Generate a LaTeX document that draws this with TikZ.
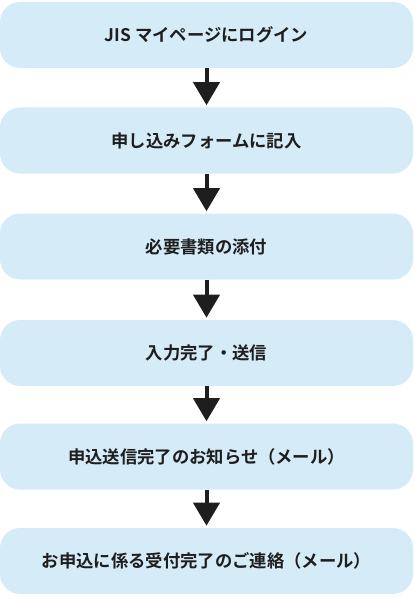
\documentclass[tikz,border=0pt]{standalone}
\usepackage{fontspec}
\newfontfamily\jpfont{Noto Sans CJK JP}[BoldFont={Noto Sans CJK JP Bold}]
\usetikzlibrary{arrows.meta}
\definecolor{boxfill}{RGB}{214,235,248}
\definecolor{ink}{RGB}{30,30,30}
\tikzset{
  x=0.75pt,y=-0.75pt,
  stepbox/.style={fill=boxfill, draw=none, rounded corners=15pt, minimum width=309.75pt, minimum height=49.5pt, inner sep=0pt, font=\jpfont\bfseries\fontsize{13pt}{15pt}\selectfont, text=ink},
  flow/.style={draw=ink, line width=3pt, -{Triangle[width=19.5pt,length=17.25pt]}, shorten >=1.5pt, color=ink},
}
\begin{document}
\begin{tikzpicture}
\useasboundingbox (0,0) rectangle (414,599);
\node[stepbox] (b1) at (206.5,35) {JIS マイページにログイン};
\node[stepbox] (b2) at (206.5,140.5) {申し込みフォームに記入};
\node[stepbox] (b3) at (206.5,246.5) {必要書類の添付};
\node[stepbox] (b4) at (206.5,353) {入力完了・送信};
\node[stepbox] (b5) at (206.5,456.5) {申込送信完了のお知らせ（メール）};
\node[stepbox] (b6) at (206.5,561) {お申込に係る受付完了のご連絡（メール）};
\draw[flow] (b1.south) -- (b2.north);
\draw[flow] (b2.south) -- (b3.north);
\draw[flow] (b3.south) -- (b4.north);
\draw[flow] (b4.south) -- (b5.north);
\draw[flow] (b5.south) -- (b6.north);
\end{tikzpicture}
\end{document}
